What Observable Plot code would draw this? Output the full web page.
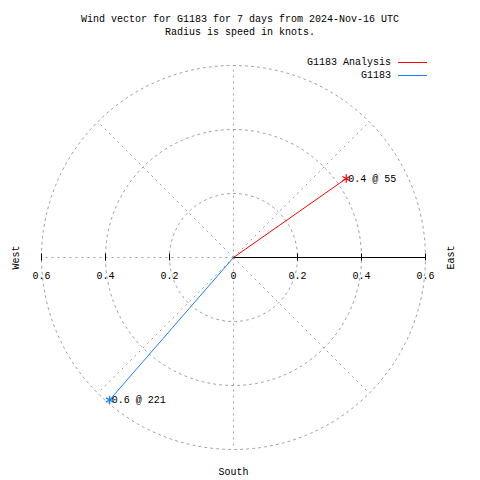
<!DOCTYPE html>
<html>
<head>
<meta charset="utf-8">
<script src="https://cdn.jsdelivr.net/npm/d3@7"></script>
<script src="https://cdn.jsdelivr.net/npm/@observablehq/plot@0.6"></script>
<style>
  body { margin: 0; background: #fff; }
  #wrap { position: relative; width: 480px; height: 480px; font-family: "Liberation Mono", "DejaVu Sans Mono", monospace; font-size: 10px; color: #000; }
  #title { position: absolute; left: 0; top: 13px; width: 480px; text-align: center; line-height: 13px; white-space: pre; }
  #chart { position: absolute; left: 0; top: 40px; }
  #legend { position: absolute; top: 56px; right: 53px; line-height: 13px; }
  .lrow { display: flex; align-items: center; justify-content: flex-end; }
  .lsw { display: inline-block; width: 29px; height: 0; border-top: 1px solid; margin-left: 7px; }
</style>
</head>
<body>
<div id="wrap">
  <div id="chart"></div>
  <div id="title"></div>
  <div id="legend"></div>
</div>
<script>
// ---- data ----
const titleLines = ["Wind vector for G1183 for 7 days from 2024-Nov-16 UTC", "Radius is speed in knots."];
const seriesNames = ["G1183 Analysis", "G1183"];
const seriesColors = ["#ff0000", "#1a80ff"];
const speeds = [0.43, 0.59];          // knots
const directions = [55, 221];         // degrees, clockwise from north
const pointLabels = ["0.4 @ 55", "0.6 @ 221"];
const ringRadii = [0.2, 0.4, 0.6];
const spokeAngles = [0, 45, 90, 135, 180, 225, 270, 315];
const tickValues = [-0.6, -0.4, -0.2, 0, 0.2, 0.4, 0.6];
const tickLabels = ["0.6", "0.4", "0.2", "0", "0.2", "0.4", "0.6"];
const rMax = 0.6;

// ---- build ----
document.getElementById("title").textContent = titleLines.join("\n");
const legend = document.getElementById("legend");
seriesNames.forEach((n, i) => {
  const row = document.createElement("div");
  row.className = "lrow";
  row.innerHTML = `<span>${n}</span><span class="lsw" style="border-color:${seriesColors[i]}"></span>`;
  legend.appendChild(row);
});

const rad = d => d * Math.PI / 180;
const vectors = speeds.map((s, i) => ({
  x: s * Math.sin(rad(directions[i])),
  y: s * Math.cos(rad(directions[i])),
  color: seriesColors[i],
  label: pointLabels[i]
}));

const rings = [];
ringRadii.forEach(r => {
  for (let a = 0; a <= 360; a += 2) rings.push({r, x: r * Math.sin(rad(a)), y: r * Math.cos(rad(a))});
});
const spokes = spokeAngles.filter(a => a !== 90).map(a => ({
  x1: 0, y1: 0, x2: rMax * Math.sin(rad(a)), y2: rMax * Math.cos(rad(a))
}));
const ticks = tickValues.map((v, i) => ({x: v, label: tickLabels[i]}));
const tickHalf = 3.5 / 320; // half tick length in data units

const gray = "#a0a0a0";
const chart = Plot.plot({
  width: 480,
  height: 440,
  marginLeft: 41,
  marginRight: 55,
  marginTop: 25,
  marginBottom: 31,
  x: {domain: [-rMax, rMax], axis: null},
  y: {domain: [-rMax, rMax], axis: null},
  style: {fontFamily: "Liberation Mono, DejaVu Sans Mono, monospace", fontSize: "10px", background: "white", overflow: "visible"},
  marks: [
    Plot.line(rings, {x: "x", y: "y", z: "r", stroke: gray, strokeWidth: 1, strokeDasharray: "2,4"}),
    Plot.link(spokes, {x1: "x1", y1: "y1", x2: "x2", y2: "y2", stroke: gray, strokeWidth: 1, strokeDasharray: "2,4"}),
    Plot.link([{x1: 0, x2: rMax, y: 0}], {x1: "x1", x2: "x2", y1: "y", y2: "y", stroke: "black", strokeWidth: 1}),
    Plot.ruleX(ticks.filter(t => t.x !== 0), {x: "x", y1: -tickHalf, y2: tickHalf, stroke: "black", strokeWidth: 1}),
    Plot.text(ticks, {x: "x", y: 0, text: "label", dy: 18, fill: "black"}),
    Plot.link(vectors, {x1: 0, y1: 0, x2: "x", y2: "y", stroke: "color", strokeWidth: 1}),
    Plot.dot(vectors, {x: "x", y: "y", symbol: "asterisk", r: 4, stroke: "color", strokeWidth: 1.2}),
    Plot.text(vectors, {x: "x", y: "y", text: "label", textAnchor: "start", dx: 2, fill: "black"}),
    Plot.text(["West"], {x: -rMax, y: 0, text: d => d, rotate: -90, dx: -26, fill: "black"}),
    Plot.text(["East"], {x: rMax, y: 0, text: d => d, rotate: -90, dx: 25, fill: "black"}),
    Plot.text(["South"], {x: 0, y: -rMax, text: d => d, dy: 22, fill: "black"})
  ]
});
document.getElementById("chart").appendChild(chart);
</script>
</body>
</html>
